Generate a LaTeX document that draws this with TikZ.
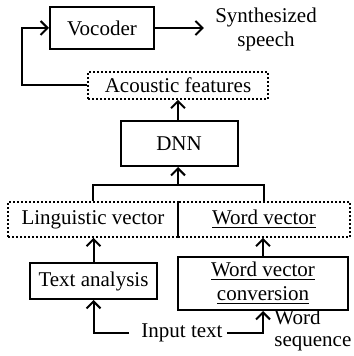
\documentclass[tikz,border=0pt]{standalone}
\usepackage{fontspec}
\setmainfont{Liberation Serif}
\usetikzlibrary{positioning,arrows.meta}
\tikzset{
  block/.style={draw,line width=1pt,inner sep=0pt},
  feat/.style={draw,line width=0.8pt,dash pattern=on 1pt off 1pt,inner sep=0pt},
  link/.style={line width=1pt,-{Straight Barb[length=3.5pt,width=7pt]}},
}
\begin{document}
\begin{tikzpicture}[x=0.5pt,y=-0.5pt,font=\fontsize{10.5}{12}\selectfont]
  \useasboundingbox (0,0) rectangle (353,356);
  \node[block,minimum width=52pt,minimum height=21pt] (voc) at (102,28) {Vocoder};
  \node[align=center,inner xsep=5.5pt,inner ysep=0pt] (out) at (266,29) {Synthesized\\speech};
  \node[feat,minimum width=90pt,minimum height=13.5pt] (acou) at (178,85.5) {Acoustic features};
  \node[block,minimum width=58.5pt,minimum height=22.5pt] (dnn) at (179,143.5) {DNN};
  \node[feat,minimum width=85pt,minimum height=17.5pt] (ling) at (93,219.5) {Linguistic vector};
  \node[feat,minimum width=86pt,minimum height=17.5pt] (wv) at (264,219.5) {\underline{Word vector}};
  \node[block,minimum width=63.5pt,minimum height=18pt] (ta) at (93.5,281) {Text analysis};
  \node[block,minimum width=85pt,minimum height=26.5pt,align=center] (wvc) at (263,283.5) {\underline{Word vector}\\\underline{conversion}};
  \node[inner sep=2pt] (in) at (178,333) {\hspace*{4pt}Input text};
  \node[align=left,inner sep=0pt,anchor=west] (seq) at (274,330) {Word\\[-1pt]sequence};
  \coordinate (loop) at (22,0);
  \coordinate (jn) at (178,185);

  \draw[link] (voc) -- (voc -| out.west);
  \draw[link] (acou.west) -- (acou.west -| loop) |- (voc.west);
  \draw[link] (jn |- dnn.north) -- (jn |- acou.south);
  \draw[link] (jn) -- (jn |- dnn.south);
  \draw[line width=1pt] (ling.north) |- (jn) -| (wv.north);
  \draw[link] (ta.north) -- (ta.north |- ling.south);
  \draw[link] (wvc.north) -- (wvc.north |- wv.south);
  \draw[link] (in.west) -| (ta.south);
  \draw[link] (in.east) -| (wvc.south);
\end{tikzpicture}
\end{document}
